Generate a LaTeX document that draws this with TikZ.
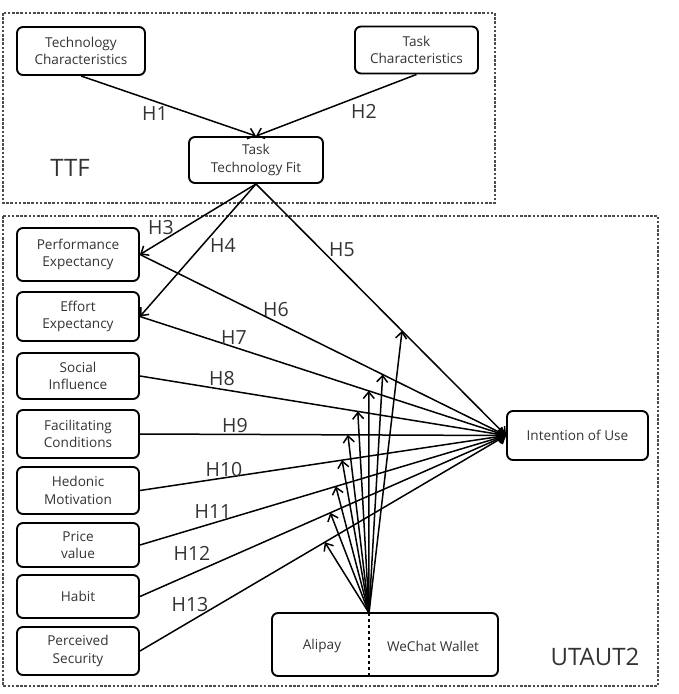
\documentclass[tikz,border=0pt]{standalone}
\usepackage{fontspec}
\setmainfont{Open Sans}
\usetikzlibrary{arrows.meta,calc}
\definecolor{txt}{HTML}{333333}
\tikzset{
  box/.style={draw=black, line width=1.9pt, rounded corners=6pt, align=center, text=txt,
    font=\fontsize{13.6}{17.5}\selectfont, inner sep=0pt},
  lbl/.style={text=txt, font=\fontsize{13.6}{17.5}\selectfont},
  hyp/.style={text=txt, font=\fontsize{19.5}{19.5}\selectfont},
  big/.style={text=txt, font=\fontsize{24}{24}\selectfont},
  frame/.style={draw=black!70, line width=2.7pt, dash pattern=on 2.6pt off 1.6pt},
  conn/.style={line width=1.5pt, -{Straight Barb[length=6.5pt,width=11pt,line width=1.5pt]}},
}
\begin{document}
\begin{tikzpicture}[x=1pt,y=-1pt]
\useasboundingbox (0,0) rectangle (679,694);
% frames
\draw[frame] (3,13) rectangle (495,203);
\draw[frame] (3,216) rectangle (658,686);
% TTF part
\node[box, minimum width=128pt, minimum height=48pt] (TC) at (81,51) {Technology\\Characteristics};
\node[box, minimum width=123pt, minimum height=47pt] (TK) at (416.5,50) {Task\\Characteristics};
\node[box, minimum width=134pt, minimum height=46pt] (TTFn) at (256,160) {Task\\Technology Fit};
\node[big] (ttflab) at (70,168) {TTF};
% UTAUT2 part
\node[box, minimum width=122pt, minimum height=53pt] (PE) at (78,254.5) {Performance\\Expectancy};
\node[box, minimum width=122pt, minimum height=49pt] (EE) at (78,316.5) {Effort\\Expectancy};
\node[box, minimum width=122pt, minimum height=46pt] (SI) at (78,376) {Social\\Influence};
\node[box, minimum width=122pt, minimum height=48pt] (FC) at (78,434) {Facilitating\\Conditions};
\node[box, minimum width=122pt, minimum height=47pt] (HM) at (78,490.5) {Hedonic\\Motivation};
\node[box, minimum width=122pt, minimum height=44pt] (PV) at (78,545) {Price\\value};
\node[box, minimum width=122pt, minimum height=43pt] (HB) at (78,596.5) {Habit};
\node[box, minimum width=122pt, minimum height=48pt] (PS) at (78,651) {Perceived\\Security};
\node[box, minimum width=141pt, minimum height=49pt] (IU) at (577.5,435.5) {Intention of Use};
\node[box, minimum width=226pt, minimum height=63pt] (MOD) at (385,644.5) {};
\node[lbl] (ali) at (322,646) {Alipay};
\node[lbl] (wec) at (433,646) {WeChat Wallet};
\coordinate (m) at (369,613);
\coordinate (mb) at (369,676);
\draw[line width=1.2pt, dashed] (m) -- (mb);
\node[big] (utlab) at (595,657) {UTAUT2};
% TTF arrows
\draw[conn] (TC.south) -- (TTFn.north);
\draw[conn] (TK.south) -- (TTFn.north);
\draw[conn] (TTFn.south) -- (PE.east);
\draw[conn] (TTFn.south) -- (EE.east);
\draw[conn] (TTFn.south) -- (IU.west);
% UTAUT2 arrows
\foreach \n in {PE,EE,SI,FC,HM,PV,HB,PS}{
  \draw[conn] (\n.east) -- (IU.west);
}
% moderator arrows
\draw[conn] (m) -- ($(TTFn.south)!0.584!(IU.west)$);
\draw[conn] (m) -- ($(PE.east)!0.663!(IU.west)$);
\draw[conn] (m) -- ($(EE.east)!0.625!(IU.west)$);
\draw[conn] (m) -- ($(SI.east)!0.595!(IU.west)$);
\draw[conn] (m) -- ($(FC.east)!0.568!(IU.west)$);
\draw[conn] (m) -- ($(HM.east)!0.552!(IU.west)$);
\draw[conn] (m) -- ($(PV.east)!0.535!(IU.west)$);
\draw[conn] (m) -- ($(HB.east)!0.52!(IU.west)$);
\draw[conn] (m) -- ($(PS.east)!0.505!(IU.west)$);
% hypothesis labels
\node[hyp] (h1) at (155,114) {H1};
\node[hyp] (h2) at (364,111) {H2};
\node[hyp] (h3) at (161,228) {H3};
\node[hyp] (h4) at (223,245) {H4};
\node[hyp] (h5) at (342,250) {H5};
\node[hyp] (h6) at (276,310) {H6};
\node[hyp] (h7) at (234,338) {H7};
\node[hyp] (h8) at (222,379) {H8};
\node[hyp] (h9) at (235,426) {H9};
\node[hyp] (h10) at (224,470) {H10};
\node[hyp] (h11) at (213,512) {H11};
\node[hyp] (h12) at (192,553) {H12};
\node[hyp] (h13) at (190,605) {H13};
\end{tikzpicture}
\end{document}
